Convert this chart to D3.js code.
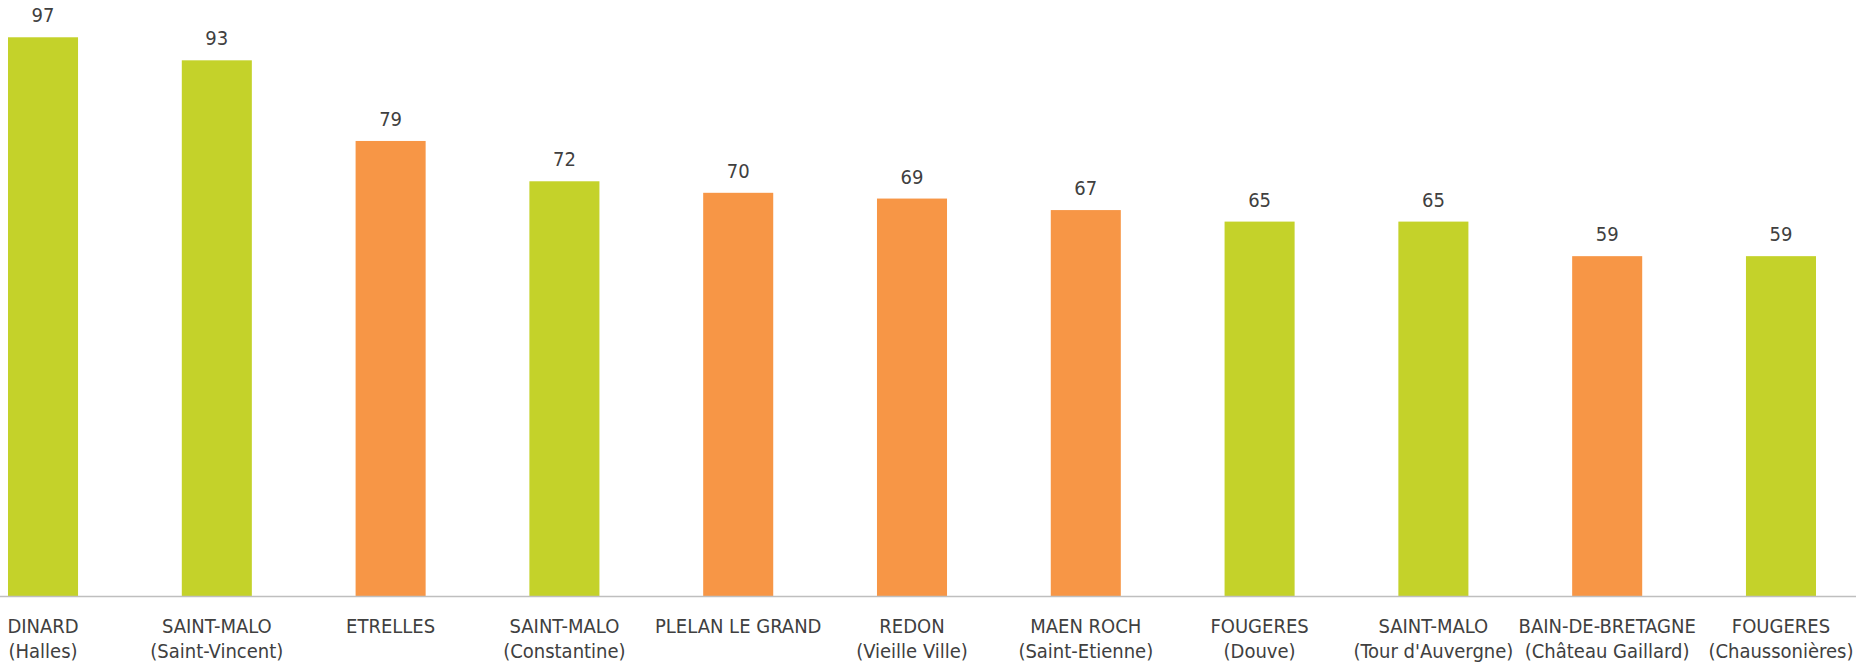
<!DOCTYPE html>
<html>
<head>
<meta charset="utf-8">
<script src="https://cdn.jsdelivr.net/npm/d3@7"></script>
<style>
  html, body { margin: 0; padding: 0; background: #ffffff; }
  svg { display: block; }
  text { font-family: "Liberation Sans Narrow", "DejaVu Sans Condensed", "Liberation Sans", sans-serif; fill: #404040; }
</style>
</head>
<body>
<svg id="chart" width="1856" height="666"></svg>
<script>
const categoriesLine1 = ["DINARD", "SAINT-MALO", "ETRELLES", "SAINT-MALO", "PLELAN LE GRAND", "REDON", "MAEN ROCH", "FOUGERES", "SAINT-MALO", "BAIN-DE-BRETAGNE", "FOUGERES"];
const categoriesLine2 = ["(Halles)", "(Saint-Vincent)", "", "(Constantine)", "", "(Vieille Ville)", "(Saint-Etienne)", "(Douve)", "(Tour d'Auvergne)", "(Château Gaillard)", "(Chaussonières)"];
const values = [97, 93, 79, 72, 70, 69, 67, 65, 65, 59, 59];
const groups = ["green", "green", "orange", "green", "orange", "orange", "orange", "green", "green", "orange", "green"];

const colorFor = { green: "#c4d22a", orange: "#f79646" };

const W = 1856, H = 666;
const svg = d3.select("#chart");
const ids = d3.range(values.length);

const x = d3.scaleBand()
  .domain(ids)
  .range([8, 1816])
  .paddingInner(0.597)
  .paddingOuter(0);

const y = d3.scaleLinear().domain([0, 100]).range([596, 20]);

// bars
svg.append("g").selectAll("rect")
  .data(ids)
  .join("rect")
  .attr("x", i => x(i))
  .attr("y", i => y(values[i]))
  .attr("width", x.bandwidth())
  .attr("height", i => y(0) - y(values[i]))
  .attr("fill", i => colorFor[groups[i]]);

// value labels
svg.append("g").selectAll("text")
  .data(ids)
  .join("text")
  .attr("x", i => x(i) + x.bandwidth() / 2)
  .attr("y", i => y(values[i]) - 15)
  .attr("text-anchor", "middle")
  .attr("font-size", 20)
  .text(i => values[i]);

// baseline axis
svg.append("line")
  .attr("x1", 0).attr("x2", W)
  .attr("y1", y(0) + 0.5).attr("y2", y(0) + 0.5)
  .attr("stroke", "#bfbfbf")
  .attr("stroke-width", 1.5);

// category labels
const lab = svg.append("g").selectAll("g")
  .data(ids)
  .join("g");

lab.append("text")
  .attr("x", i => x(i) + x.bandwidth() / 2)
  .attr("y", 633)
  .attr("text-anchor", "middle")
  .attr("font-size", 20)
  .text(i => categoriesLine1[i]);

lab.append("text")
  .attr("x", i => x(i) + x.bandwidth() / 2)
  .attr("y", 658)
  .attr("text-anchor", "middle")
  .attr("font-size", 20)
  .text(i => categoriesLine2[i]);

// keep labels inside the canvas
svg.selectAll("text").each(function() {
  const b = this.getBBox();
  const t = d3.select(this);
  const cx = +t.attr("x");
  if (b.x + b.width > W - 1) t.attr("x", cx - (b.x + b.width - (W - 1)));
  if (b.x < 1) t.attr("x", cx + (1 - b.x));
});
</script>
</body>
</html>
